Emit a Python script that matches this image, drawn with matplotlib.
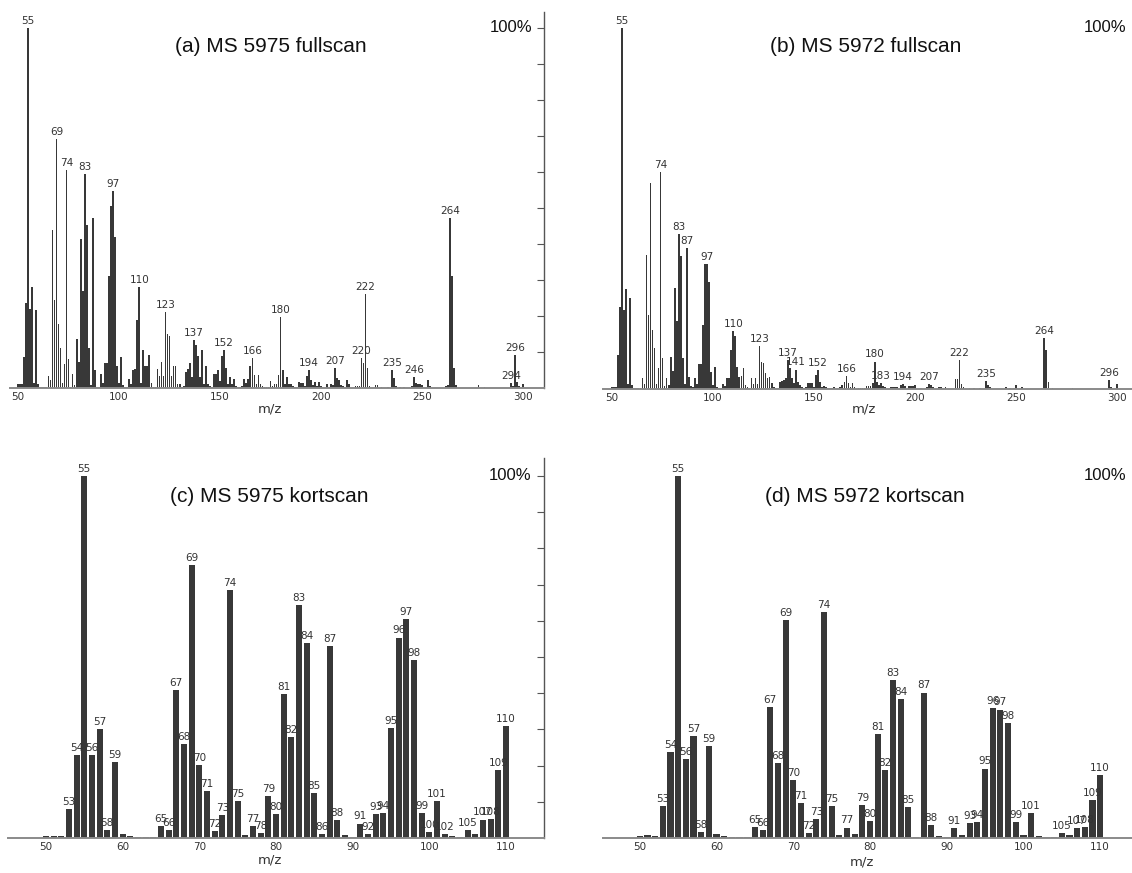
import matplotlib
matplotlib.use('Agg')
import matplotlib.pyplot as plt

W, H = 1132, 873
BAR = '#383838'

# ---- (a) MS 5975 fullscan, m/z 50..300 (relative abundance, %)
mz_full = list(range(50, 301))
int_a = [1.0, 1.0, 1.0, 8.5, 23.5, 100, 22, 28, 1.3, 21.7,        # 50
         1.0, 0.4, 0.3, 0.3, 0.2, 3.3, 2.2, 44, 24.4, 69.2,        # 60
         17.8, 11, 1.3, 6.7, 60.4, 8, 0.4, 3.9, 0.8, 13.6,         # 70
         7.3, 41.4, 27, 59.5, 45.3, 11.2, 0.8, 47.3, 5, 0.4,       # 80
         0.2, 4, 1.3, 6.9, 6.9, 31.2, 50.5, 54.6, 42, 6,           # 90
         1.3, 8.5, 0.8, 0.3, 0.3, 2.6, 1.2, 5, 5.2, 19,            # 100
         28, 1.3, 10.6, 6, 6.2, 9.2, 1.3, 0.4, 0.4, 5.2,           # 110
         3.3, 7.1, 3.3, 21, 15, 14.5, 3.3, 6, 6.2, 1,              # 120
         1, 0.4, 0.5, 4.5, 5.2, 7, 3, 13.4, 12, 9,                 # 130
         3, 10.5, 1, 6, 1, 0.5, 0.3, 4, 4, 5,                      # 140
         2, 9, 10.6, 5.5, 1, 3, 1, 2.5, 0.5, 0.3,                  # 150
         0.3, 0.5, 2.6, 1.5, 2.5, 6, 8.3, 3.5, 1, 3.5,             # 160
         1, 0.5, 0.3, 0.3, 0.3, 2, 0.5, 1, 1, 3.5,                 # 170
         19.6, 5, 1, 3, 1, 1, 0.5, 0.3, 0.3, 1.6,                  # 180
         1.4, 1.4, 0.5, 3.2, 5, 2.3, 0.8, 1.8, 0.5, 1.8,           # 190
         0.5, 0, 0, 1, 0, 1, 0.8, 5.5, 2.8, 2.3,                   # 200
         0.8, 0.5, 0, 2.3, 1, 0, 0, 0.5, 0.5, 0.5,                 # 210
         8.3, 7, 26.2, 5.6, 0.5, 0, 0, 0.7, 0.7, 0,                # 220
         0.2, 0, 0, 0.3, 0, 4.9, 2.8, 0.5, 0, 0.4,                 # 230
         0, 0.4, 0, 0, 0, 0.5, 3, 1.4, 1, 1,                       # 240
         0.8, 0, 0, 2.3, 0.5, 0, 0, 0, 0, 0,                       # 250
         0, 0, 0.5, 0.8, 47.2, 31.2, 5.6, 0.7, 0, 0,               # 260
         0, 0, 0, 0, 0, 0, 0, 0, 0.8, 0,                           # 270
         0, 0.3, 0, 0, 0, 0, 0, 0, 0, 0,                           # 280
         0, 0, 0, 0, 1.4, 0.5, 9.1, 1.8, 0.5, 0,                   # 290
         1.2]
labels_a = [55, 69, 74, 83, 97, 110, 123, 137, 152, 166, 180, 194, 207,
            220, 222, 235, 246, 264, 294, 296]

# ---- (b) MS 5972 fullscan
int_b = [0.6, 0.6, 0.5, 9.4, 22.6, 100, 21.9, 27.7, 1.5, 25.3,     # 50
         1, 0.4, 0.3, 0.3, 0.2, 3.1, 1.5, 37, 20.5, 57,            # 60
         16.3, 11.3, 1.5, 5.7, 60, 8.7, 0.7, 3, 1, 9,              # 70
         5, 27.9, 18.8, 42.8, 36.7, 8.5, 1.5, 39, 3.2, 0.7,        # 80
         0.5, 3, 1.5, 7, 6.8, 17.7, 34.5, 34.5, 29.7, 4.6,         # 90
         1, 6.2, 0.5, 0.3, 0.3, 1.3, 0.8, 3.1, 3.1, 10.8,          # 100
         16, 14.7, 6.2, 3.4, 3.6, 5.7, 1, 0.5, 0.3, 3,             # 110
         1.5, 3, 1.5, 11.9, 7.4, 7.1, 4.3, 3, 3.4, 1.6,            # 120
         0.6, 0.3, 0.3, 2, 2.2, 2.5, 3, 8, 5.7, 3,                 # 130
         1.6, 5.4, 2, 1, 0.6, 0.3, 0.6, 1.8, 1.8, 1.8,             # 140
         0.6, 3.9, 5.2, 2, 0.6, 0.8, 0.6, 0.4, 0.4, 0.4,           # 150
         0.6, 0, 0, 0.6, 1, 2, 3.6, 1.6, 0.6, 1.6,                 # 160
         0.6, 0, 0.4, 0.4, 0.4, 0.4, 0.8, 0.8, 0.8, 1.6,           # 170
         7.6, 2, 1, 1.6, 0.8, 0.6, 0, 0, 0.6, 0.6,                 # 180
         0.6, 0.6, 0, 1.1, 1.4, 0.8, 0, 0.8, 0.8, 0.8,             # 190
         1.1, 0, 0, 0.4, 0, 0, 0.6, 1.4, 1, 0.6,                   # 200
         0, 0, 0.6, 0.6, 0, 0.6, 0, 0, 0, 0,                       # 210
         2.8, 2.8, 8, 1.4, 0.6, 0, 0, 0.3, 0, 0.3,                 # 220
         0, 0, 0.3, 0, 0, 2.2, 1.1, 0.6, 0, 0,                     # 230
         0, 0, 0, 0, 0, 0.6, 0, 0.3, 0, 0.3,                       # 240
         1.1, 0, 0, 0.6, 0, 0, 0, 0, 0, 0,                         # 250
         0, 0, 0, 0.3, 14, 10.8, 2, 0, 0.3, 0,                     # 260
         0, 0, 0, 0, 0, 0, 0, 0, 0.2, 0,                           # 270
         0, 0, 0, 0, 0, 0, 0, 0, 0, 0,                             # 280
         0, 0, 0, 0, 0, 0, 2.5, 0.6, 0, 0,                         # 290
         1.3]
labels_b = [55, 74, 83, 87, 97, 110, 123, 137, 141, 152, 166, 180, 183,
            194, 207, 222, 235, 264, 296]

# ---- (c) MS 5975 kortscan, m/z 50..110
mz_kort = list(range(50, 111))
int_c = [0.5, 0.6, 0.6, 8, 22.9, 100, 22.9, 30, 2.1, 21,
         1, 0.5, 0.3, 0.3, 0.3, 3.2, 2.3, 41, 25.9, 75.3,
         20.1, 12.9, 1.9, 6.4, 68.6, 10.1, 0.9, 3.2, 1.4, 11.5,
         6.5, 39.9, 27.9, 64.3, 53.9, 12.5, 1.2, 53.1, 4.9, 0.7,
         0.3, 4, 1.2, 6.5, 6.9, 30.4, 55.4, 60.5, 49.1, 6.9,
         1.7, 10.2, 1.2, 0.5, 0.3, 2.3, 1.2, 5.1, 5.3, 18.9,
         30.9]
labels_c = [53, 54, 55, 56, 57, 58, 59, 65, 66, 67, 68, 69, 70, 71, 72, 73,
            74, 75, 77, 78, 79, 80, 81, 82, 83, 84, 85, 86, 87, 88, 91, 92,
            93, 94, 95, 96, 97, 98, 99, 100, 101, 102, 105, 107, 108, 109, 110]

# ---- (d) MS 5972 kortscan
int_d = [0.5, 0.9, 0.6, 8.8, 23.8, 100, 21.9, 28.1, 1.7, 25.4,
         1, 0.5, 0.3, 0.3, 0.3, 3, 2.3, 36.2, 20.6, 60.2,
         15.9, 9.7, 1.4, 5.2, 62.5, 8.8, 0.7, 2.9, 1.2, 9,
         4.6, 28.8, 18.9, 43.6, 38.4, 8.6, 0.3, 40.2, 3.7, 0.5,
         0.3, 2.8, 0.9, 4.1, 4.4, 19.2, 36, 35.5, 31.8, 4.4,
         0.9, 6.9, 0.6, 0.3, 0.3, 1.4, 0.7, 2.8, 3, 10.6,
         17.3]
labels_d = [53, 54, 55, 56, 57, 58, 59, 65, 66, 67, 68, 69, 70, 71, 72, 73,
            74, 75, 77, 79, 80, 81, 82, 83, 84, 85, 87, 88, 91, 93, 94, 95,
            96, 97, 98, 99, 101, 105, 107, 108, 109, 110]


def add_axes_px(fig, left, top, right, bottom):
    """Axes placed by pixel edges (y measured from the top)."""
    return fig.add_axes([left / W, 1 - bottom / H, (right - left) / W, (bottom - top) / H])


def draw_spectrum(ax, mz, inten, labels, width, xlim, ylim, xticks, right_axis):
    ax.bar(mz, inten, width=width, color=BAR, linewidth=0, zorder=2)
    for m in labels:
        ax.annotate('%d' % m, (m, inten[mz.index(m)]), xytext=(0, 1.5),
                    textcoords='offset points', ha='center', va='bottom',
                    fontsize=7.5, color='#333333', zorder=3)
    ax.set_xlim(*xlim)
    ax.set_ylim(*ylim)
    ax.set_xticks(xticks)
    ax.tick_params(axis='x', length=0, pad=3, labelsize=7.5, labelcolor='#333333')
    for s in ('top', 'left'):
        ax.spines[s].set_visible(False)
    ax.spines['bottom'].set_color('#8a8a8a')
    ax.spines['bottom'].set_linewidth(1.4)
    if right_axis:
        ax.spines['right'].set_color('#555555')
        ax.spines['right'].set_linewidth(1.0)
        ax.yaxis.tick_right()
        ax.set_yticks(range(10, 101, 10))
        ax.set_yticklabels([])
        ax.tick_params(axis='y', direction='in', length=5, color='#555555')
    else:
        ax.spines['right'].set_visible(False)
        ax.set_yticks([])
    ax.patch.set_alpha(0)


fig = plt.figure(figsize=(W / 100, H / 100), dpi=100)

panels = [
    # data, labels, bar width, xlim, ylim, ticks, right axis, px box (l, t, r, b)
    (mz_full, int_a, labels_a, 0.85, (46, 310.4), (0, 104.4), range(50, 301, 50), True, (10, 12, 544, 388)),
    (mz_full, int_b, labels_b, 0.85, (45.5, 307.4), (0, 104.4), range(50, 301, 50), False, (603, 12, 1132, 389)),
    (mz_kort, int_c, labels_c, 0.8, (45.05, 114.95), (0, 105), range(50, 111, 10), True, (8, 458, 544, 838)),
    (mz_kort, int_d, labels_d, 0.8, (45.2, 114.15), (0, 105), range(50, 111, 10), False, (603, 458, 1132, 838)),
]
titles = ['(a) MS 5975 fullscan', '(b) MS 5972 fullscan',
          '(c) MS 5975 kortscan', '(d) MS 5972 kortscan']
title_px = [(175, 47), (770, 47), (170, 497), (765, 497)]
pct_px = [(532, 27), (1126, 27), (531, 476), (1126, 476)]
mz_px = [(270, 409), (864, 409), (270, 860), (862, 862)]

for i, (mz, inten, labels, w, xl, yl, xt, right, box) in enumerate(panels):
    ax = add_axes_px(fig, *box)
    draw_spectrum(ax, mz, inten, labels, w, xl, yl, list(xt), right)
    tx, ty = title_px[i]
    fig.text(tx / W, 1 - ty / H, titles[i], fontsize=15, family='Liberation Sans',
             ha='left', va='center', color='#111111')
    px, py = pct_px[i]
    fig.text(px / W, 1 - py / H, '100%', fontsize=12, family='Liberation Sans',
             ha='right', va='center', color='#111111')
    mx, my = mz_px[i]
    fig.text(mx / W, 1 - my / H, 'm/z', fontsize=9.5, ha='center', va='center',
             color='#333333')

fig.savefig('out.png', dpi=100, facecolor='white')
